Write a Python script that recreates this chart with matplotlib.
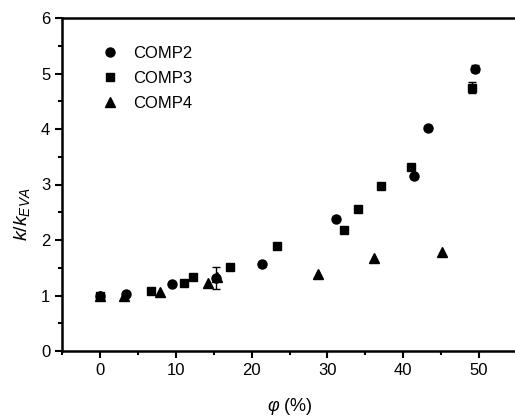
import numpy as np
import matplotlib
matplotlib.use("Agg")
import matplotlib.pyplot as plt

plt.rcParams['font.family'] = ['Liberation Sans', 'DejaVu Sans']
plt.rcParams['mathtext.fontset'] = 'custom'
plt.rcParams['mathtext.it'] = 'Liberation Sans:italic'
plt.rcParams['mathtext.rm'] = 'Liberation Sans'

# COMP2 (circles)
phi2 = [0.0, 3.5, 9.45, 15.3, 21.4, 31.1, 41.4, 43.3, 49.5]
k2 = [1.0, 1.02, 1.21, 1.32, 1.56, 2.38, 3.16, 4.01, 5.09]
err2 = [0.02, 0.02, 0.02, 0.2, 0.02, 0.02, 0.02, 0.02, 0.07]

# COMP3 (squares)
phi3 = [0.0, 6.8, 11.1, 12.3, 17.1, 23.3, 32.2, 34.0, 37.0, 41.0, 49.1]
k3 = [1.0, 1.08, 1.23, 1.33, 1.52, 1.90, 2.18, 2.56, 2.97, 3.32, 4.74]
err3 = [0.02, 0.02, 0.02, 0.02, 0.02, 0.02, 0.02, 0.02, 0.02, 0.02, 0.1]

# COMP4 (triangles)
phi4 = [0.0, 3.2, 7.9, 14.3, 15.5, 28.8, 36.1, 45.1]
k4 = [1.0, 1.0, 1.07, 1.23, 1.33, 1.38, 1.68, 1.78]
err4 = [0.05, 0.05, 0.05, 0.05, 0.05, 0.05, 0.05, 0.05]

fig = plt.figure(figsize=(5.15, 4.17), dpi=100)
ax = fig.add_axes([62/515, 1-351/417, (517-62)/515, (351-18)/417])

ax.errorbar(phi2, k2, yerr=err2, fmt='o', color='black', ms=6.5, capsize=3,
            elinewidth=1, label='COMP2')
ax.errorbar(phi3, k3, yerr=err3, fmt='s', color='black', ms=5.5, capsize=3,
            elinewidth=1, label='COMP3')
ax.errorbar(phi4, k4, yerr=err4, fmt='^', color='black', ms=6.5, capsize=0,
            elinewidth=1, label='COMP4')

ax.set_xlim(-5, 55)
ax.set_ylim(0, 6)
ax.set_xticks([0, 10, 20, 30, 40, 50])
ax.set_xticks([-5, 5, 15, 25, 35, 45], minor=True)
ax.set_yticks([0, 1, 2, 3, 4, 5, 6])
ax.set_yticks([0.5, 1.5, 2.5, 3.5, 4.5, 5.5], minor=True)
ax.tick_params(which='major', direction='out', length=5, width=1.5, labelsize=12)
ax.tick_params(which='minor', direction='out', length=3, width=1.5)
for s in ax.spines.values():
    s.set_linewidth(1.8)

ax.set_xlabel(r'$\varphi$ (%)', fontsize=13)
ax.set_ylabel(r'$k/k_{EVA}$', fontsize=14)
ax.xaxis.set_label_coords(0.5, -0.135)
ax.yaxis.set_label_coords(-0.065, 0.41)

h, l = ax.get_legend_handles_labels()
h = [x[0] for x in h]
ax.legend(h, l, loc='upper left', bbox_to_anchor=(0.05, 0.96), frameon=False,
          fontsize=12, handletextpad=0.8, labelspacing=0.6, handlelength=1.2)

fig.savefig('out.png', dpi=100)
